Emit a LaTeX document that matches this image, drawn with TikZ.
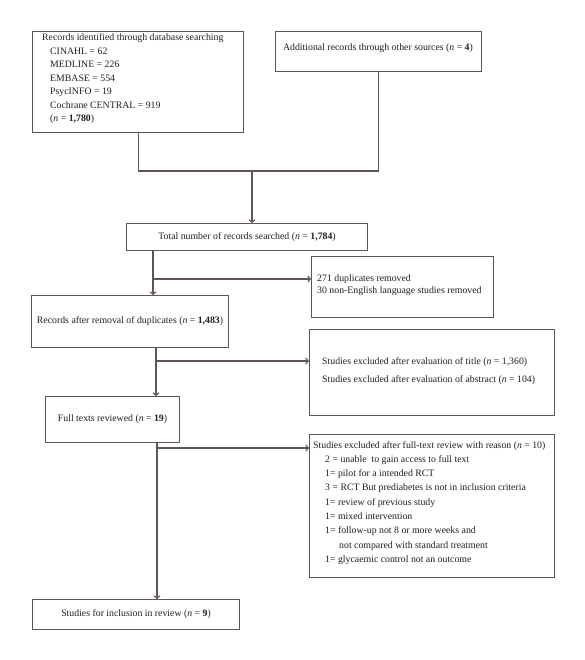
\documentclass[tikz,border=0pt]{standalone}
\usepackage{fontspec}
\setmainfont{Liberation Serif}
\usetikzlibrary{arrows.meta,calc}
\definecolor{linec}{RGB}{95,85,82}
\definecolor{txtc}{RGB}{35,30,30}
\begin{document}
\begin{tikzpicture}[x=1pt,y=-1pt,
  box/.style={draw=linec, line width=1.1pt, rectangle, inner sep=0pt, anchor=north west, text=txtc, font=\fontsize{9.8}{11}\selectfont},
  txt/.style={inner sep=0pt, text=txtc, anchor=base west},
  line/.style={draw=linec, line width=1.1pt},
  arr/.style={line, -{Straight Barb[length=2.5pt,width=6pt]}}]
\useasboundingbox (0,0) rectangle (585,660);
\fill[white] (0,0) rectangle (585,660);

% boxes
\node[box, minimum width=211pt, minimum height=101pt] (b1) at (32,31) {};
\node[box, minimum width=206pt, minimum height=40pt] (b2) at (275,31) {};
\node[box, minimum width=241pt, minimum height=27pt] (b3) at (126,223) {Total number of records searched (\textit{n} = \textbf{1,784})};
\node[box, minimum width=197pt, minimum height=52pt] (b4) at (31,295) {Records after removal of duplicates (\textit{n} = \textbf{1,483})};
\node[box, minimum width=182pt, minimum height=61pt] (b5) at (311,256) {};
\node[box, minimum width=245pt, minimum height=86pt] (b6) at (309,329) {};
\node[box, minimum width=134pt, minimum height=46pt] (b7) at (45,396) {Full texts reviewed (\textit{n} = \textbf{19})};
\node[box, minimum width=245pt, minimum height=143pt] (b8) at (309,434) {};
\node[box, minimum width=207pt, minimum height=30pt] (b9) at (32,599) {Studies for inclusion in review (\textit{n} = \textbf{9})};

% texts inside boxes
\node[txt] (t1) at (42,41) {\fontsize{9.8}{13.5}\selectfont\begin{tabular}[t]{@{}l@{}}
Records identified through database searching\\
\hspace*{8pt}CINAHL = 62\\
\hspace*{8pt}MEDLINE = 226\\
\hspace*{8pt}EMBASE = 554\\
\hspace*{8pt}PsycINFO = 19\\
\hspace*{8pt}Cochrane CENTRAL = 919\\
\hspace*{8pt}(\textit{n} = \textbf{1,780})
\end{tabular}};
\node[txt, anchor=base] (t2) at (378,51) {\fontsize{9.8}{11}\selectfont Additional records through other sources (\textit{n} = \textbf{4})};
\node[txt] (t5) at (317,281) {\fontsize{9.8}{12.7}\selectfont\begin{tabular}[t]{@{}l@{}}
271 duplicates removed\\
30 non-English language studies removed
\end{tabular}};
\node[txt] (t6) at (322,364) {\fontsize{9.8}{18}\selectfont\begin{tabular}[t]{@{}l@{}}
Studies excluded after evaluation of title (\textit{n} = 1,360)\\
Studies excluded after evaluation of abstract (\textit{n} = 104)
\end{tabular}};
\node[txt] (t8) at (313,448) {\fontsize{9.8}{14.3}\selectfont\begin{tabular}[t]{@{}l@{}}
Studies excluded after full-text review with reason (\textit{n} = 10)\\
\hspace*{12pt}2 = unable\ \ to gain access to full text\\
\hspace*{12pt}1= pilot for a intended RCT\\
\hspace*{12pt}3 = RCT But prediabetes is not in inclusion criteria\\
\hspace*{12pt}1= review of previous study\\
\hspace*{12pt}1= mixed intervention\\
\hspace*{12pt}1= follow-up not 8 or more weeks and\\
\hspace*{26pt}not compared with standard treatment\\
\hspace*{12pt}1= glycaemic control not an outcome
\end{tabular}};

% junctions
\coordinate (j1) at (252,171);
\coordinate (c2) at (153,279);
\coordinate (c3) at (156,361);
\coordinate (c4) at (157,448);

% connectors
\draw[line] (b1.south) |- (j1) -| (b2.south);
\draw[arr] (j1) -- (j1 |- b3.north);
\draw[arr] (c2 |- b3.south) -- (c2 |- b4.north);
\draw[arr] (c2) -- (c2 -| b5.west);
\draw[arr] (c3 |- b4.south) -- (c3 |- b7.north);
\draw[arr] (c3) -- (c3 -| b6.west);
\draw[arr] (c4 |- b7.south) -- (c4 |- b9.north);
\draw[arr] (c4) -- (c4 -| b8.west);
\end{tikzpicture}
\end{document}
